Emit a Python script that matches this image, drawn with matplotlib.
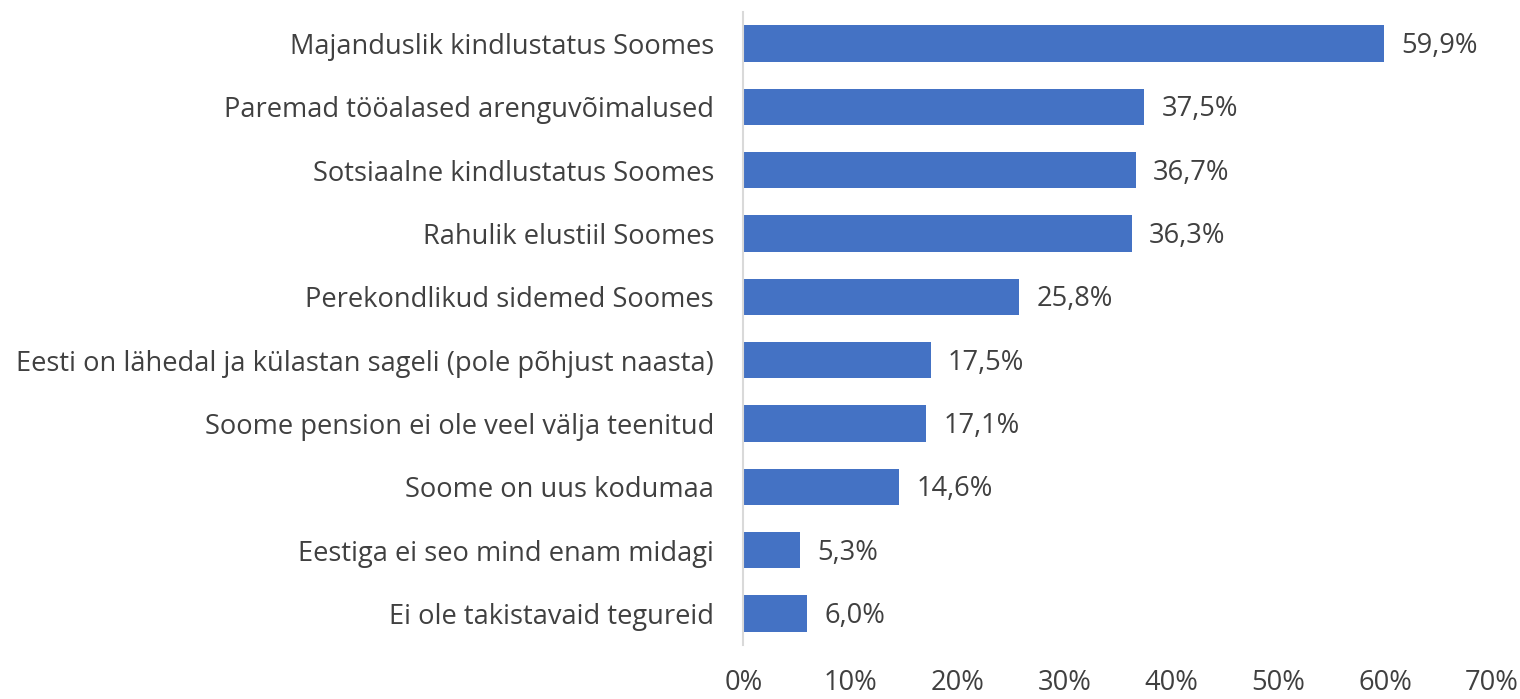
import matplotlib
matplotlib.use("Agg")
import matplotlib.pyplot as plt
from matplotlib.ticker import FuncFormatter

categories = [
    "Majanduslik kindlustatus Soomes",
    "Paremad tööalased arenguvõimalused",
    "Sotsiaalne kindlustatus Soomes",
    "Rahulik elustiil Soomes",
    "Perekondlikud sidemed Soomes",
    "Eesti on lähedal ja külastan sageli (pole põhjust naasta)",
    "Soome pension ei ole veel välja teenitud",
    "Soome on uus kodumaa",
    "Eestiga ei seo mind enam midagi",
    "Ei ole takistavaid tegureid",
]
values = [59.9, 37.5, 36.7, 36.3, 25.8, 17.5, 17.1, 14.6, 5.3, 6.0]
xticks = [0, 10, 20, 30, 40, 50, 60, 70]

plt.rcParams['font.family'] = ['Open Sans', 'DejaVu Sans']
txt = '#404040'
fs = 19.6

fig = plt.figure(figsize=(15.2, 6.99), dpi=100)
ax = fig.add_axes([0.489, 0.077, 0.4927, 0.906])
y = list(range(len(categories)))
ax.barh(y, values, height=0.57, color='#4472C4')
for yi, v in zip(y, values):
    ax.text(v + 1.6, yi + 0.04, f"{v:.1f}%".replace('.', ','), va='center', ha='left',
            fontsize=fs, color=txt)
ax.set_ylim(len(categories) - 0.5, -0.5)
ax.set_xlim(0, 70)
ax.set_yticks(y)
ax.set_yticklabels(categories, fontsize=fs, color=txt)
ax.set_xticks(xticks)
ax.xaxis.set_major_formatter(FuncFormatter(lambda x, p: f"{x:.0f}%"))
ax.tick_params(axis='x', length=0, pad=17, labelsize=fs, labelcolor=txt)
ax.tick_params(axis='y', length=0, pad=21)
for s in ['top', 'right', 'bottom']:
    ax.spines[s].set_visible(False)
ax.spines['left'].set_color('#D9D9D9')
ax.spines['left'].set_linewidth(1.5)
fig.savefig('out.png', dpi=100)
